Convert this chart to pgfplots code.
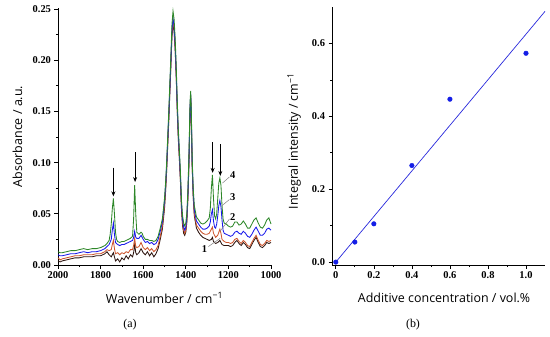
\documentclass[border=0pt]{standalone}
\usepackage{pgfplots}
\pgfplotsset{compat=1.18}
\usepackage{pgfplotstable}
\usepackage{fontspec}
\setmainfont{Liberation Serif}
\newfontfamily\labfont{Open Sans}
\usetikzlibrary{arrows.meta}
\definecolor{cA}{RGB}{45,20,15}
\definecolor{cB}{RGB}{205,85,45}
\definecolor{cC}{RGB}{25,25,235}
\definecolor{cD}{RGB}{45,135,40}
\definecolor{cFit}{RGB}{40,40,220}
\definecolor{cPt}{RGB}{20,30,230}

\pgfplotstableread{
x y
2000 0.004
1990 0.003
1980 0.004
1960 0.005
1940 0.006
1920 0.007
1900 0.007
1880 0.008
1860 0.008
1840 0.008
1820 0.009
1800 0.009
1780 0.011
1770 0.013
1760 0.010
1750 0.008
1745 0.010
1740 0.012
1735 0.008
1730 0.004
1720 0.006
1710 0.003
1700 0.007
1690 0.005
1680 0.009
1670 0.006
1660 0.010
1650 0.008
1645 0.012
1640 0.020
1635 0.012
1630 0.010
1620 0.012
1610 0.016
1600 0.012
1590 0.010
1580 0.013
1570 0.009
1560 0.012
1550 0.008
1540 0.011
1530 0.016
1520 0.025
1510 0.035
1500 0.055
1495 0.071
1490 0.091
1480 0.140
1470 0.194
1465 0.223
1460 0.235
1455 0.228
1450 0.210
1445 0.183
1440 0.149
1435 0.122
1430 0.102
1425 0.080
1420 0.052
1415 0.038
1410 0.031
1405 0.029
1400 0.032
1395 0.042
1390 0.065
1385 0.100
1380 0.150
1377 0.163
1374 0.140
1370 0.095
1365 0.065
1360 0.048
1350 0.036
1340 0.032
1330 0.029
1320 0.027
1310 0.026
1300 0.025
1290 0.024
1280 0.025
1275 0.027
1270 0.023
1260 0.021
1250 0.022
1240 0.024
1230 0.020
1220 0.019
1210 0.019
1200 0.019
1190 0.018
1180 0.019
1170 0.022
1160 0.024
1150 0.021
1140 0.019
1130 0.022
1120 0.020
1110 0.017
1100 0.016
1090 0.020
1080 0.024
1070 0.027
1060 0.022
1050 0.018
1040 0.017
1030 0.019
1020 0.022
1010 0.021
1000 0.022
}\specA

\pgfplotstableread{
x y
2000 0.007
1990 0.005
1980 0.006
1960 0.007
1940 0.008
1920 0.009
1900 0.009
1880 0.010
1860 0.010
1840 0.010
1820 0.011
1800 0.011
1780 0.013
1770 0.015
1760 0.014
1750 0.015
1745 0.020
1740 0.024
1735 0.016
1730 0.011
1720 0.012
1710 0.010
1700 0.012
1690 0.011
1680 0.013
1670 0.012
1660 0.015
1650 0.015
1645 0.019
1640 0.026
1635 0.018
1630 0.017
1620 0.018
1610 0.022
1600 0.017
1590 0.015
1580 0.017
1570 0.014
1560 0.016
1550 0.013
1540 0.015
1530 0.019
1520 0.028
1510 0.038
1500 0.058
1495 0.074
1490 0.094
1480 0.143
1470 0.197
1465 0.226
1460 0.238
1455 0.231
1450 0.213
1445 0.186
1440 0.152
1435 0.125
1430 0.105
1425 0.083
1420 0.055
1415 0.041
1410 0.034
1405 0.031
1400 0.034
1395 0.044
1390 0.067
1385 0.102
1380 0.152
1377 0.165
1374 0.142
1370 0.097
1365 0.067
1360 0.050
1350 0.039
1340 0.036
1330 0.033
1320 0.031
1310 0.030
1300 0.030
1290 0.031
1280 0.035
1275 0.037
1270 0.031
1260 0.027
1250 0.029
1240 0.035
1235 0.031
1230 0.025
1220 0.023
1210 0.022
1200 0.022
1190 0.021
1180 0.022
1170 0.025
1160 0.026
1150 0.023
1140 0.021
1130 0.024
1120 0.022
1110 0.019
1100 0.018
1090 0.022
1080 0.026
1070 0.029
1060 0.024
1050 0.020
1040 0.019
1030 0.021
1020 0.024
1010 0.023
1000 0.024
}\specB

\pgfplotstableread{
x y
2000 0.010
1990 0.009
1980 0.009
1960 0.010
1940 0.011
1920 0.011
1900 0.012
1880 0.013
1860 0.012
1840 0.013
1820 0.013
1800 0.014
1780 0.016
1770 0.018
1760 0.020
1750 0.025
1745 0.034
1740 0.041
1735 0.030
1730 0.022
1720 0.020
1710 0.019
1700 0.020
1690 0.020
1680 0.021
1670 0.022
1660 0.023
1650 0.024
1645 0.027
1640 0.033
1635 0.027
1630 0.026
1620 0.026
1610 0.029
1600 0.025
1590 0.022
1580 0.023
1570 0.021
1560 0.022
1550 0.020
1540 0.021
1530 0.025
1520 0.033
1510 0.042
1500 0.062
1495 0.077
1490 0.097
1480 0.146
1470 0.200
1465 0.229
1460 0.241
1455 0.234
1450 0.216
1445 0.189
1440 0.155
1435 0.128
1430 0.108
1425 0.086
1420 0.058
1415 0.044
1410 0.037
1405 0.034
1400 0.037
1395 0.047
1390 0.070
1385 0.105
1380 0.155
1377 0.167
1374 0.145
1370 0.100
1365 0.070
1360 0.054
1350 0.043
1340 0.040
1330 0.037
1320 0.035
1310 0.035
1300 0.036
1290 0.038
1285 0.042
1280 0.050
1275 0.054
1270 0.043
1265 0.037
1260 0.036
1255 0.040
1250 0.048
1245 0.058
1240 0.063
1235 0.057
1230 0.044
1225 0.034
1220 0.031
1210 0.030
1200 0.029
1190 0.028
1180 0.029
1170 0.032
1160 0.033
1150 0.031
1140 0.030
1130 0.033
1120 0.031
1110 0.028
1100 0.027
1090 0.030
1080 0.034
1070 0.037
1060 0.033
1050 0.029
1040 0.029
1030 0.031
1020 0.035
1010 0.036
1000 0.034
}\specC

\pgfplotstableread{
x y
2000 0.013
1990 0.012
1980 0.012
1960 0.013
1940 0.014
1920 0.014
1900 0.015
1880 0.016
1860 0.015
1840 0.016
1820 0.016
1800 0.017
1780 0.019
1770 0.021
1760 0.024
1755 0.030
1750 0.040
1745 0.055
1740 0.065
1735 0.050
1730 0.032
1725 0.025
1720 0.023
1710 0.022
1700 0.023
1690 0.023
1680 0.024
1670 0.025
1660 0.026
1650 0.028
1645 0.045
1640 0.078
1635 0.050
1630 0.032
1620 0.030
1610 0.032
1605 0.031
1600 0.028
1590 0.025
1580 0.025
1570 0.024
1560 0.024
1550 0.023
1540 0.024
1530 0.028
1520 0.036
1510 0.045
1500 0.065
1495 0.080
1490 0.100
1480 0.150
1470 0.205
1465 0.235
1460 0.248
1455 0.240
1450 0.222
1445 0.195
1440 0.160
1435 0.132
1430 0.112
1425 0.090
1420 0.062
1415 0.048
1410 0.041
1405 0.038
1400 0.041
1395 0.051
1390 0.074
1385 0.110
1380 0.160
1377 0.170
1374 0.150
1370 0.104
1365 0.074
1360 0.058
1350 0.047
1340 0.044
1330 0.041
1320 0.040
1310 0.041
1300 0.043
1290 0.046
1285 0.055
1280 0.075
1275 0.088
1270 0.065
1265 0.048
1260 0.045
1255 0.050
1250 0.065
1245 0.080
1240 0.085
1235 0.078
1230 0.058
1225 0.045
1220 0.041
1210 0.040
1200 0.038
1190 0.037
1180 0.038
1170 0.042
1160 0.042
1150 0.039
1140 0.040
1130 0.043
1120 0.040
1110 0.036
1100 0.036
1090 0.040
1080 0.044
1070 0.046
1060 0.041
1050 0.037
1040 0.036
1030 0.039
1020 0.044
1010 0.046
1000 0.040
}\specD

\pgfplotstableread{
x y
0   0.000
0.1 0.055
0.2 0.105
0.4 0.265
0.6 0.447
1.0 0.573
}\intdata

\newcommand{\tickfont}{\fontsize{10.5}{12}\selectfont\bfseries}
\newcommand{\axlabfont}{\labfont\fontsize{12.5}{14}\selectfont}

\pgfplotsset{
  panel/.style={
    scale only axis,
    axis x line*=bottom,
    axis y line*=left,
    axis line style={line width=0.8pt},
    tick align=outside,
    major tick length=3.5bp,
    minor tick length=2bp,
    every tick/.style={black,line width=0.7pt},
    tick label style={font=\tickfont},
    clip=false,
  }
}

\begin{document}
\begin{tikzpicture}[x=1bp,y=1bp]
\path[use as bounding box] (0,0) rectangle (550,336);

\begin{axis}[panel,
  at={(58bp,71bp)}, anchor=south west,
  width=213bp, height=257bp,
  x dir=reverse,
  xmin=1000, xmax=2000, ymin=0, ymax=0.251,
  xtick={1000,1200,1400,1600,1800,2000},
  xticklabels={1000,1200,1400,1600,1800,2000},
  ytick={0,0.05,0.10,0.15,0.20,0.25},
  yticklabels={0.00,0.05,0.10,0.15,0.20,0.25},
  minor x tick num=1, minor y tick num=1,
  xlabel={Wavenumber / cm\textsuperscript{−1}},
  ylabel={Absorbance / a.u.},
  every axis x label/.style={at={(axis description cs:0.5,-0.128)},anchor=center,font=\axlabfont},
  every axis y label/.style={at={(axis description cs:-0.19,0.5)},rotate=90,anchor=center,font=\axlabfont},
]
\addplot[cA, line width=0.85pt] table[x=x,y=y] {\specA};
\addplot[cB, line width=0.85pt] table[x=x,y=y] {\specB};
\addplot[cC, line width=0.85pt] table[x=x,y=y] {\specC};
\addplot[cD, line width=0.85pt] table[x=x,y=y] {\specD};

\draw[-{Stealth[length=5bp,width=4bp]}, line width=1.1pt] (axis cs:1740,0.095) -- (axis cs:1740,0.067);
\draw[-{Stealth[length=5bp,width=4bp]}, line width=1.1pt] (axis cs:1638,0.110) -- (axis cs:1638,0.081);
\draw[-{Stealth[length=5bp,width=4bp]}, line width=1.1pt] (axis cs:1274,0.120) -- (axis cs:1274,0.090);
\draw[-{Stealth[length=5bp,width=4bp]}, line width=1.1pt] (axis cs:1238,0.118) -- (axis cs:1238,0.087);

\draw[gray, line width=0.5pt] (axis cs:1228,0.080) -- (axis cs:1195,0.086);
\draw[gray, line width=0.5pt] (axis cs:1230,0.058) -- (axis cs:1195,0.064);
\draw[gray, line width=0.5pt] (axis cs:1239,0.033) -- (axis cs:1195,0.045);
\draw[gray, line width=0.5pt] (axis cs:1294,0.018) -- (axis cs:1239,0.026);
\node[font=\tickfont, anchor=center] at (axis cs:1180,0.088) {4};
\node[font=\tickfont, anchor=center] at (axis cs:1180,0.066) {3};
\node[font=\tickfont, anchor=center] at (axis cs:1180,0.047) {2};
\node[font=\tickfont, anchor=center] at (axis cs:1312,0.016) {1};
\end{axis}

\begin{axis}[panel,
  at={(332bp,71bp)}, anchor=south west,
  width=213bp, height=258bp,
  xmin=-0.02, xmax=1.1, ymin=-0.008, ymax=0.70,
  xtick={0,0.2,0.4,0.6,0.8,1.0},
  xticklabels={0,0.2,0.4,0.6,0.8,1.0},
  ytick={0,0.2,0.4,0.6},
  yticklabels={0.0,0.2,0.4,0.6},
  minor x tick num=1, minor y tick num=1,
  xlabel={Additive concentration / vol.\%},
  ylabel={Integral intensity / cm\textsuperscript{−1}},
  every axis x label/.style={at={(axis description cs:0.526,-0.128)},anchor=center,font=\axlabfont},
  every axis y label/.style={at={(axis description cs:-0.178,0.48)},rotate=90,anchor=center,font=\axlabfont},
]
\addplot[cFit, line width=0.7pt] coordinates {(0,0) (1.1,0.688)};
\addplot[only marks, mark=*, mark size=2.3bp, cPt] table[x=x,y=y] {\intdata};
\end{axis}

\node[font=\fontsize{12}{14}\selectfont] at (130,11) {(a)};
\node[font=\fontsize{12}{14}\selectfont] at (413,11) {(b)};
\end{tikzpicture}
\end{document}
